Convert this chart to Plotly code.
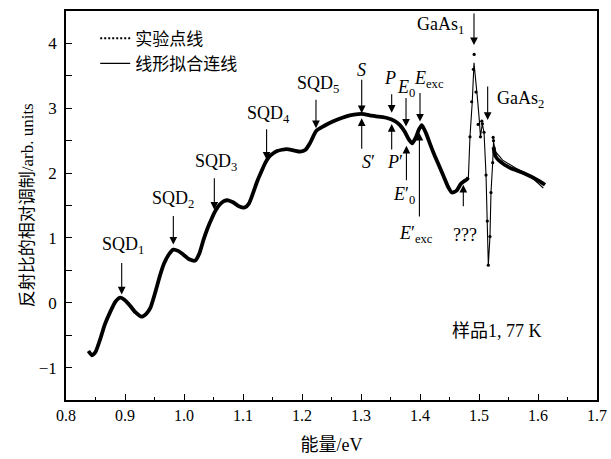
import plotly.graph_objects as go

# ---------------- data ----------------
# experimental curve, smooth part (dense points -> thick band)
E_exp_smooth = [0.838, 0.844, 0.850, 0.858, 0.866, 0.875, 0.884, 0.892, 0.900, 0.909,
                0.918, 0.928, 0.936, 0.943, 0.951, 0.959, 0.966, 0.974, 0.982, 0.990,
                0.999, 1.009, 1.019, 1.026, 1.033, 1.040, 1.047, 1.054, 1.061, 1.068,
                1.075, 1.083, 1.093, 1.103, 1.110, 1.117, 1.124, 1.131, 1.138, 1.145,
                1.152, 1.158, 1.166, 1.174, 1.186, 1.197, 1.206, 1.214, 1.224, 1.238,
                1.253, 1.267, 1.281, 1.295, 1.305, 1.315, 1.330, 1.344, 1.356, 1.366,
                1.374, 1.381, 1.387, 1.393, 1.398, 1.403, 1.410, 1.417, 1.423, 1.432,
                1.440, 1.447, 1.454, 1.462, 1.469, 1.474, 1.479, 1.482]
R_exp_smooth = [-0.745, -0.81, -0.76, -0.56, -0.33, -0.14, 0.02, 0.08, 0.04, -0.05,
                -0.15, -0.215, -0.17, -0.08, 0.15, 0.41, 0.60, 0.74, 0.82, 0.80,
                0.74, 0.67, 0.65, 0.76, 0.97, 1.15, 1.30, 1.43, 1.52, 1.57,
                1.58, 1.55, 1.49, 1.47, 1.53, 1.69, 1.87, 2.02, 2.16, 2.26,
                2.31, 2.34, 2.36, 2.37, 2.35, 2.33, 2.36, 2.47, 2.65, 2.73,
                2.80, 2.85, 2.89, 2.91, 2.91, 2.89, 2.87, 2.85, 2.81, 2.74,
                2.64, 2.52, 2.46, 2.55, 2.67, 2.74, 2.62, 2.45, 2.31, 2.12,
                1.95, 1.80, 1.70, 1.73, 1.83, 1.87, 1.90, 1.93]

# experimental points around the GaAs features (isolated dots)
E_exp_gaas = [1.4847, 1.4876, 1.4905, 1.4918, 1.4949, 1.4985, 1.5025, 1.5048, 1.5058,
              1.5085, 1.5119, 1.5141, 1.5158, 1.5186, 1.5203, 1.5232, 1.5240, 1.5246]
R_exp_gaas = [2.56, 3.10, 3.60, 3.83, 3.25, 2.75, 2.56, 2.80, 2.76,
              2.63, 1.97, 1.26, 0.58, 1.02, 1.70, 2.16, 2.55, 2.50]

# experimental tail after GaAs features
E_exp_tail = [1.5246, 1.5280, 1.5356, 1.5525, 1.5751, 1.5978, 1.6119]
R_exp_tail = [2.40, 2.26, 2.18, 2.08, 2.00, 1.90, 1.82]

# line-shape fit (coincides with the data below 1.48 eV)
E_fit_gaas = [1.4847, 1.4876, 1.4886, 1.4915, 1.4949, 1.4971, 1.5005, 1.5025, 1.5056,
              1.5085, 1.5119, 1.5141, 1.5158, 1.5186, 1.5203, 1.5232, 1.5246,
              1.5280, 1.5400, 1.5620, 1.5850, 1.6090]
R_fit_gaas = [2.56, 2.95, 3.10, 3.70, 3.30, 3.18, 2.82, 2.56, 2.76,
              2.63, 1.97, 1.26, 0.58, 1.02, 1.70, 2.16, 2.48,
              2.33, 2.20, 2.08, 1.97, 1.77]

x_ticks = [0.8, 0.9, 1.0, 1.1, 1.2, 1.3, 1.4, 1.5, 1.6, 1.7]
y_ticks = [-1, 0, 1, 2, 3, 4]

FONT = "Liberation Serif, Noto Sans CJK SC, serif"

fig = go.Figure()

# fit line (thin, solid)
fig.add_trace(go.Scatter(x=E_exp_smooth + E_fit_gaas, y=R_exp_smooth + R_fit_gaas,
                         mode="lines", line=dict(color="black", width=1.1),
                         showlegend=False, hoverinfo="skip"))
# experimental: thick band
fig.add_trace(go.Scatter(x=E_exp_smooth + [None] + E_exp_tail,
                         y=R_exp_smooth + [None] + R_exp_tail,
                         mode="lines", line=dict(color="black", width=3.8, shape="spline", smoothing=0.6),
                         showlegend=False, hoverinfo="skip"))
# experimental: isolated points
fig.add_trace(go.Scatter(x=E_exp_gaas, y=R_exp_gaas, mode="markers",
                         marker=dict(color="black", size=3.2),
                         showlegend=False, hoverinfo="skip"))
# legend entries
fig.add_trace(go.Scatter(x=[None], y=[None], mode="lines", name="实验点线",
                         line=dict(color="black", width=2, dash="2px,2px")))
fig.add_trace(go.Scatter(x=[None], y=[None], mode="lines", name="线形拟合连线",
                         line=dict(color="black", width=1.3)))

# ---------------- annotations ----------------
labels = [
    ("SQD<sub>1</sub>", 0.8966, 0.88),
    ("SQD<sub>2</sub>", 0.9814, 1.60),
    ("SQD<sub>3</sub>", 1.0542, 2.16),
    ("SQD<sub>4</sub>", 1.144, 2.90),
    ("SQD<sub>5</sub>", 1.227, 3.36),
    ("<i>S</i>", 1.300, 3.59),
    ("<i>S</i>′", 1.312, 2.17),
    ("<i>P</i>", 1.349, 3.47),
    ("<i>P</i>′", 1.3576, 2.17),
    ("<i>E</i><sub>0</sub>", 1.3763, 3.31),
    ("<i>E</i><sub>exc</sub>", 1.4153, 3.44),
    ("<i>E</i>′<sub>0</sub>", 1.3729, 1.65),
    ("<i>E</i>′<sub>exc</sub>", 1.3932, 1.05),
    ("???", 1.4763, 1.05),
    ("GaAs<sub>1</sub>", 1.4339, 4.28),
    ("GaAs<sub>2</sub>", 1.5695, 3.13),
    ("样品1, 77 K", 1.5305, -0.44),
]
arrows = [  # tip (E, R), pixel offset of tail
    (0.8944, 0.128, -33), (0.9819, 0.897, -30), (1.0514, 1.435, -33),
    (1.140, 2.205, -32), (1.2237, 2.692, -30), (1.3012, 2.923, -35),
    (1.3012, 2.846, 32), (1.352, 2.93, -20), (1.352, 2.757, 27),
    (1.3763, 2.717, -30), (1.377, 2.42, 36), (1.400, 2.794, -30),
    (1.399, 2.62, 85), (1.4734, 1.82, 23), (1.4915, 3.974, -33),
    (1.5147, 2.82, -35),
]
ann = []
for t, x, y in labels:
    ann.append(dict(x=x, y=y, xref="x", yref="y", text=t, showarrow=False,
                    font=dict(family=FONT, size=18, color="black")))
for x, y, ay in arrows:
    ann.append(dict(x=x, y=y, xref="x", yref="y", ax=0, ay=ay, text="",
                    showarrow=True, arrowhead=2, arrowsize=1.4, arrowwidth=1.1,
                    arrowcolor="black", standoff=0, startstandoff=0))
# y-axis title placed as rotated text
ann.append(dict(x=-0.072, y=0.5, xref="paper", yref="paper", text="反射比的相对调制/arb. units",
                textangle=-90, showarrow=False, xanchor="center", yanchor="middle",
                font=dict(family=FONT, size=17, color="black")))

fig.update_layout(
    width=611, height=459,
    margin=dict(l=66, r=14, t=11, b=59, autoexpand=False),
    paper_bgcolor="white", plot_bgcolor="white",
    font=dict(family=FONT, size=16, color="black"),
    annotations=ann,
    legend=dict(x=0.055, y=0.975, xanchor="left", yanchor="top",
                bgcolor="rgba(0,0,0,0)", font=dict(family=FONT, size=17),
                tracegroupgap=0, itemwidth=30),
    xaxis=dict(range=[0.8, 1.7], tickvals=x_ticks, ticktext=[f"{v:.1f}" for v in x_ticks],
               ticks="inside", ticklen=6, tickwidth=1, tickcolor="black",
               minor=dict(dtick=0.05, ticks="inside", ticklen=3, tickcolor="black"),
               showline=True, linecolor="black", linewidth=1.5, mirror=True,
               showgrid=False, zeroline=False, automargin=False,
               title=dict(text="能量/eV", font=dict(family=FONT, size=18), standoff=15),
               tickfont=dict(family=FONT, size=16)),
    yaxis=dict(range=[-1.5, 4.5], tickvals=y_ticks,
               ticktext=["−1" if v < 0 else str(v) for v in y_ticks],
               ticks="inside", ticklen=6, tickwidth=1, tickcolor="black",
               minor=dict(dtick=0.5, ticks="inside", ticklen=6, tickcolor="black"),
               showline=True, linecolor="black", linewidth=1.5, mirror=True,
               showgrid=False, zeroline=False, automargin=False, ticklabelstandoff=4,
               tickfont=dict(family=FONT, size=17)),
)

fig.write_html("out.html", config={"displayModeBar": False},
               post_script="document.body.style.margin='0px';")
